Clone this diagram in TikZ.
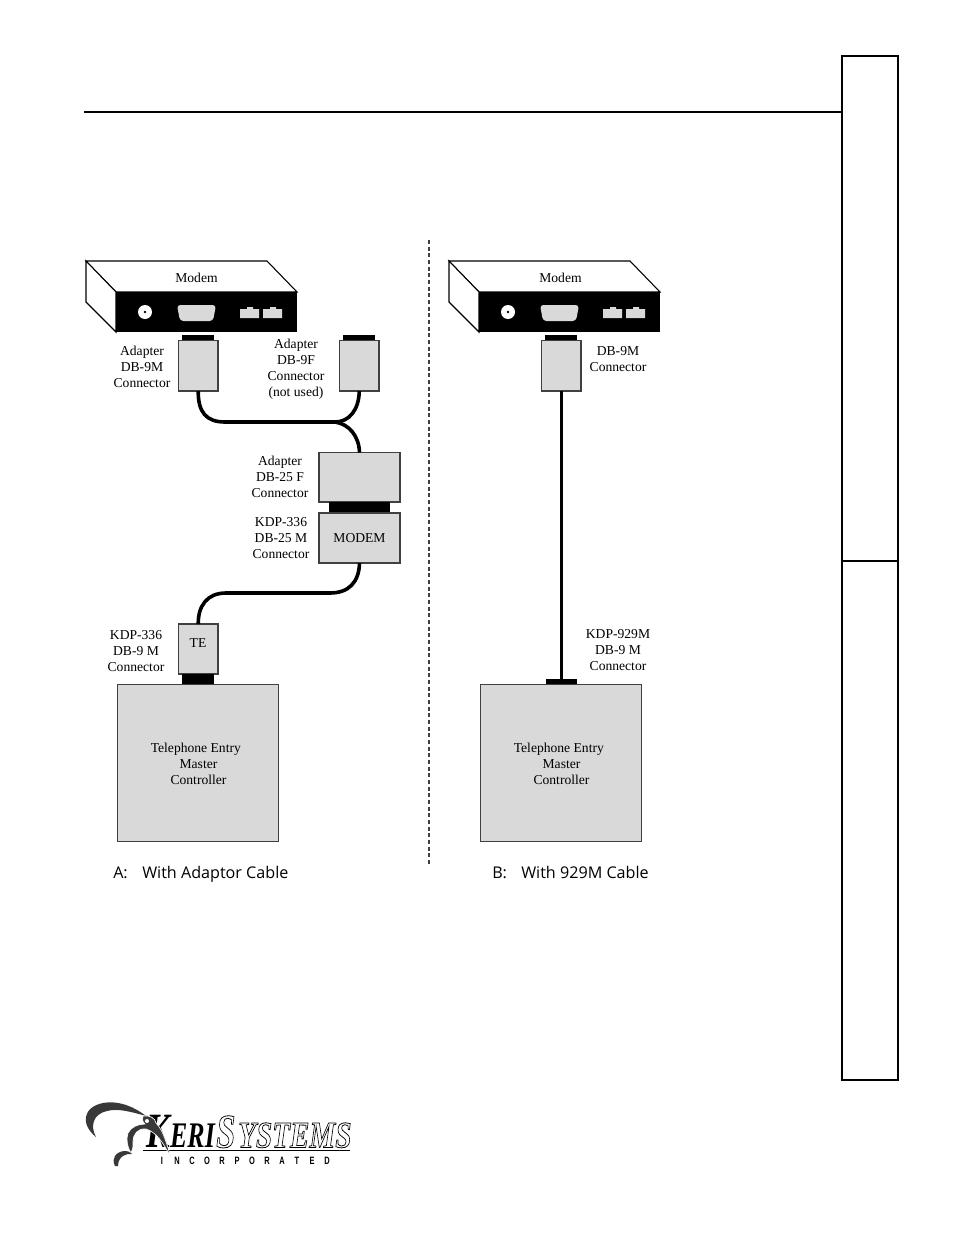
\documentclass[tikz,border=0pt]{standalone}
\usepackage{fontspec}
\setmainfont{Liberation Serif}
\newfontfamily\capfont{Open Sans}
\newfontfamily\logofont{Liberation Sans}
\definecolor{partgray}{HTML}{D9D9D9}
\newcommand{\outlined}[1]{\special{pdf:code 1 Tr 0.6 w}#1\special{pdf:code 0 Tr}}
\tikzset{
  lbl/.style={align=center,inner sep=0pt,font=\fontsize{10.2}{12}\selectfont},
  part/.style={draw=black!75,line width=.8pt,fill=partgray,inner sep=0pt,outer sep=0pt,anchor=north west},
  plug/.style={fill=black,draw=none,inner sep=0pt,outer sep=0pt,anchor=north west},
  cable/.style={line width=2.7pt,black},
  frameline/.style={line width=1.6pt,black},
  caption/.style={inner sep=0pt,anchor=base west,font=\capfont\fontsize{12.1}{14}\selectfont},
  port/.style={fill=partgray,draw=none},
  modemfront/.style={fill=black,draw=none,inner sep=0pt,outer sep=0pt,anchor=north west,minimum width=181*.75pt,minimum height=40*.75pt},
  bird/.style={fill=black!78,draw=none},
  bigletter/.style={inner sep=0pt,anchor=base west,xscale=#1,transform shape},
}
\newcommand{\modem}[2]{%
  % casing drawn in perspective, with the black rear panel and its ports
  \begin{scope}[shift={(#1,0)}]
    \draw[line width=.8pt,fill=white] (86,261) -- (267,261) -- (297,292) -- (116,292) -- cycle;
    \draw[line width=.8pt,fill=white] (86,261) -- (116,292) -- (116,332) -- (86,302) -- cycle;
    \node[modemfront] (#2panel) at (116,292) {};
    \node[circle,fill=white,minimum size=10.5pt,inner sep=0pt] (#2jack) at (145,312) {};
    \node[circle,fill=black,minimum size=2pt,inner sep=0pt] (#2pin) at (145,312) {};
    \fill[port,rounded corners=2.5pt] (177,305) -- (216,305) -- (213,321) -- (180,321) -- cycle;
    \fill[port] (240,309) -- (247,309) -- (247,307) -- (253,307) -- (253,309) -- (259,309) -- (259,318) -- (240,318) -- cycle;
    \fill[port] (263,309) -- (270,309) -- (270,307) -- (276,307) -- (276,309) -- (282,309) -- (282,318) -- (263,318) -- cycle;
  \end{scope}}
\newcommand{\boxat}[6]{\node[#1,minimum width=#5*.75pt,minimum height=#6*.75pt] (#2) at (#3,#4) {};}
\begin{document}
\begin{tikzpicture}[x=.75pt,y=-.75pt]
\useasboundingbox (0,0) rectangle (954,1235);

% page furniture
\coordinate (ruleL) at (84,112);
\coordinate (ruleR) at (842,112);
\draw[frameline] (ruleL) -- (ruleR);
\node[draw=black,line width=1.6pt,inner sep=0pt,outer sep=0pt,anchor=north west,minimum width=56*.75pt,minimum height=1024*.75pt] (tab) at (842,56) {};
\coordinate (tabL) at (842,561);
\coordinate (tabR) at (898,561);
\draw[frameline] (tabL) -- (tabR);

% divider between the two wiring options
\coordinate (divT) at (429,240);
\coordinate (divB) at (429,864);
\draw[black!75,line width=.9pt,dash pattern=on 3pt off 2pt] (divT) -- (divB);

% option A
\modem{0}{a}
\boxat{plug}{aPlugL}{182}{335}{32}{6}
\boxat{part}{aConnL}{178.5}{340.5}{39.5}{50.5}
\boxat{plug}{aPlugR}{343}{335}{32}{6}
\boxat{part}{aConnR}{339.5}{340.5}{39.5}{50.5}
\boxat{part}{aDb25F}{319}{452.5}{81}{49.5}
\boxat{plug}{aGender}{329}{502}{61}{11}
\node[part,minimum width=81*.75pt,minimum height=50*.75pt,font=\fontsize{10.2}{12}\selectfont] (aDb25M) at (319,513) {MODEM};
\node[part,minimum width=39.5*.75pt,minimum height=50*.75pt] (aTE) at (178.5,624) {};
\node[lbl] (aTEtext) at (198,643) {TE};
\boxat{plug}{aPlugTE}{182}{674}{32}{10}
\boxat{part}{aCtrl}{117.5}{684.5}{161}{157}

% Y cable and its branch point
\coordinate (aJoin) at (335,422);
\draw[cable] (aConnL.south) .. controls (198,412) and (206,422) .. (225,422) -- (aJoin)
             .. controls (349,422) and (359,410) .. (aConnR.south);
\draw[cable] (aJoin) .. controls (349,424) and (359,436) .. (aDb25F.north);
% cable down to the controller
\coordinate (aBendR) at (330,593);
\coordinate (aBendL) at (226,593);
\draw[cable] (aDb25M.south) .. controls (359,582) and (349,593) .. (aBendR) -- (aBendL)
             .. controls (207,593) and (198,606) .. (aTE.north);

\node[lbl] (mA) at (196.5,278) {Modem};
\node[lbl] (l1) at (142,367) {Adapter\\DB-9M\\Connector};
\node[lbl] (l2) at (296,369.5) {Adapter\\DB-9F\\Connector\\(not used)};
\node[lbl] (l3) at (280,477) {Adapter\\DB-25 F\\Connector};
\node[lbl] (l4) at (281,538) {KDP-336\\DB-25 M\\Connector};
\node[lbl] (l5) at (136,651.5) {KDP-336\\DB-9 M\\Connector};
\node[lbl] (cA) at (198.5,764) {\hspace*{-4pt}Telephone Entry\\Master\\Controller};
\node[caption] (capA1) at (113,878) {A:};
\node[caption] (capA2) at (142,878) {With Adaptor Cable};

% option B
\modem{363}{b}
\boxat{plug}{bPlug}{545}{335}{32}{6}
\boxat{part}{bConn}{541.5}{340.5}{39.5}{50.5}
\boxat{plug}{bFoot}{545.75}{679}{31}{5}
\boxat{part}{bCtrl}{480.5}{684.5}{161}{157}
\draw[line width=2.4pt] (bConn.south) -- (bFoot.north);

\node[lbl] (mB) at (560.5,278) {Modem};
\node[lbl] (l6) at (618,359) {DB-9M\\Connector};
\node[lbl] (l7) at (618,650) {KDP-929M\\DB-9 M\\Connector};
\node[lbl] (cB) at (561.5,764) {\hspace*{-4pt}Telephone Entry\\Master\\Controller};
\node[caption] (capB1) at (492,878) {B:};
\node[caption] (capB2) at (521,878) {With 929M Cable};

% company mark: wordmark first, bird head and beak on top of it
\node[bigletter=.72,font=\bfseries\itshape\fontsize{37}{37}\selectfont] (logoK) at (146,1147.5) {K};
\node[bigletter=.72,font=\bfseries\itshape\fontsize{27}{27}\selectfont] (logoE) at (170,1147.5) {ERI};
\node[bigletter=.72,font=\itshape\bfseries\fontsize{36}{36}\selectfont] (logoS) at (216,1147.5) {\outlined{S}};
\node[bigletter=.78,font=\itshape\bfseries\fontsize{28}{28}\selectfont] (logoY) at (238,1147.5) {\outlined{YSTEMS}};
\coordinate (logoLineL) at (143,1150.5);
\coordinate (logoLineR) at (350,1150.5);
\draw[line width=1.2pt] (logoLineL) -- (logoLineR);
\foreach \ch [count=\i from 0] in {I,N,C,O,R,P,O,R,A,T,E,D}
  \node[inner sep=0pt,anchor=base,font=\logofont\bfseries\fontsize{8}{8}\selectfont,xscale=.7,transform shape] (logoT\i) at (162+\i*15,1164) {\ch};

% outer sweep of the head
\fill[bird] (96,1137) .. controls (80,1124) and (83,1107) .. (103,1103)
  .. controls (120,1100) and (136,1108) .. (146,1116)
  .. controls (132,1112) and (118,1108) .. (107,1111)
  .. controls (93,1114) and (90,1126) .. (96,1137) -- cycle;
% crown, throat and long curved beak
\fill[bird,draw=white,line width=.5pt] (143,1116) .. controls (150,1115) and (155,1118) .. (156,1123)
  .. controls (163,1130) and (167,1144) .. (171,1158)
  .. controls (163,1142) and (156,1132) .. (146,1129)
  .. controls (138,1128) and (133,1134) .. (133,1142)
  .. controls (133,1147) and (133,1150) .. (131,1153)
  .. controls (127,1147) and (126,1139) .. (128,1133)
  .. controls (131,1127) and (138,1124) .. (145,1124)
  .. controls (142,1121) and (142,1119) .. (143,1116) -- cycle;
% small curl below the throat
\fill[bird] (115,1166) .. controls (111,1158) and (116,1152) .. (124,1151)
  .. controls (128,1151) and (131,1152) .. (132,1154)
  .. controls (127,1153) and (118,1156) .. (118,1166) -- cycle;
\node[circle,fill=white,minimum size=3pt,inner sep=0pt] (eye) at (147,1121) {};
\end{tikzpicture}
\end{document}
